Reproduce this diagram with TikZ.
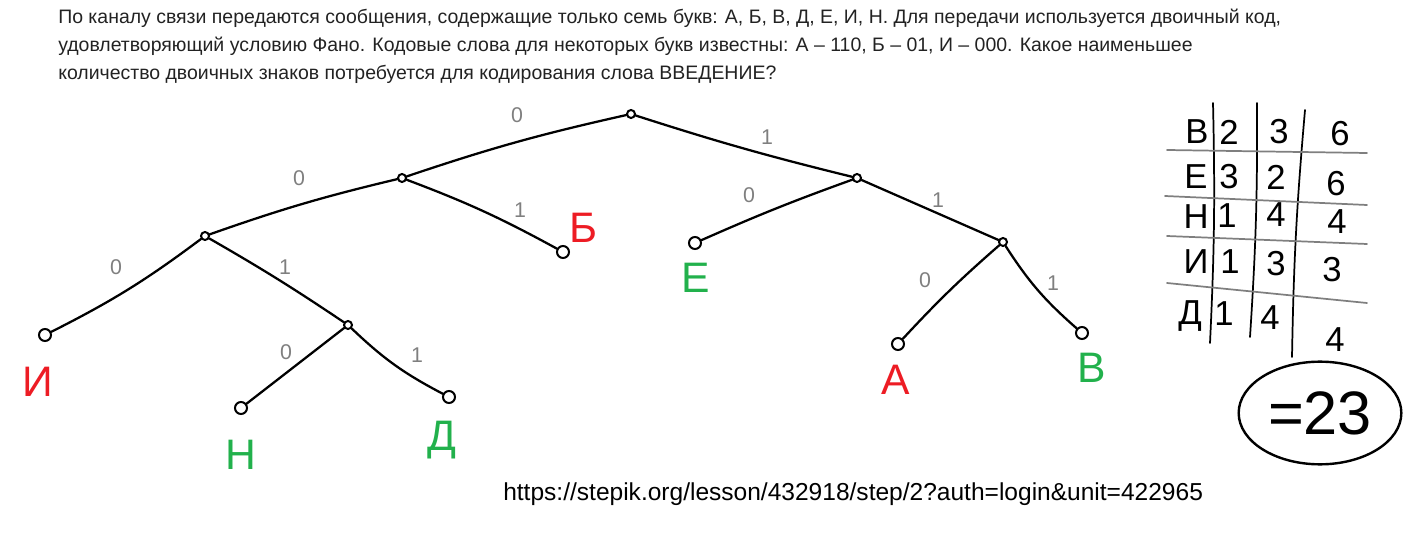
\documentclass[tikz,border=0pt]{standalone}
\usepackage{fontspec}
\setmainfont{Liberation Sans}
\usetikzlibrary{shapes.geometric}
\definecolor{pred}{HTML}{ED1C24}
\definecolor{pgreen}{HTML}{22B14C}
\definecolor{pgray}{HTML}{7F7F7F}
\definecolor{ink}{HTML}{222222}

\begin{document}
\begin{tikzpicture}[x=0.75pt,y=-0.75pt,
  knot/.style={circle,draw,line width=1.5pt,inner sep=0pt,minimum size=6pt},
  leaf/.style={knot,minimum size=9pt},
  edge/.style={line width=1.7pt,line cap=round},
  bit/.style={text=pgray,inner sep=0pt,font=\fontsize{16}{16}\selectfont},
  letter/.style={inner sep=0pt,font=\fontsize{32}{32}\selectfont},
  hit/.style={letter,text=pred},
  fit/.style={letter,text=pgreen},
  cell/.style={inner sep=0pt,font=\fontsize{26}{26}\selectfont},
  rule/.style={line width=1.3pt,line cap=round},
  task/.style={anchor=base west,inner sep=0pt,text=ink,font=\fontsize{14.6}{14.6}\selectfont}]
\useasboundingbox (0,0) rectangle (1405,534);

\node[task] (q1) at (58,24) {По каналу связи передаются сообщения, содержащие только семь букв: А, Б, В, Д, Е, И, Н. Для передачи используется двоичный код,};
\node[task] (q2) at (58,52) {удовлетворяющий условию Фано. Кодовые слова для некоторых букв известны: А – 110, Б – 01, И – 000. Какое наименьшее};
\node[task] (q3) at (58,80) {количество двоичных знаков потребуется для кодирования слова ВВЕДЕНИЕ?};

\node[knot] (root) at (631,114) {};
\node[knot] (z) at (402,178) {};
\node[knot] (o) at (857,178) {};
\node[knot] (zz) at (205,236) {};
\node[knot] (zzo) at (348,325) {};
\node[knot] (oo) at (1003,242) {};
\node[leaf] (I) at (45,335) {};
\node[leaf] (B) at (563,252) {};
\node[leaf] (N) at (241,408) {};
\node[leaf] (D) at (449,397) {};
\node[leaf] (E) at (695,243) {};
\node[leaf] (A) at (898,344) {};
\node[leaf] (V) at (1082,333) {};

\draw[edge] (root) to[bend right=3] (z);
\draw[edge] (root) to[bend right=2] (o);
\draw[edge] (z) to[bend right=3] (zz);
\draw[edge] (z) to[bend left=4] (B);
\draw[edge] (zz) to[bend left=5] (I);
\draw[edge] (zz) to[bend left=2] (zzo);
\draw[edge] (zzo) -- (N);
\draw[edge] (zzo) to[bend right=8] (D);
\draw[edge] (o) to[bend right=2] (E);
\draw[edge] (o) -- (oo);
\draw[edge] (oo) to[bend right=3] (A);
\draw[edge] (oo) to[bend right=8] (V);

\node[bit] (b0) at (517,115) {0};
\node[bit] (b1) at (767,137) {1};
\node[bit] (b00) at (299,178) {0};
\node[bit] (b01) at (520,210) {1};
\node[bit] (b000) at (116,267) {0};
\node[bit] (b001) at (285,267) {1};
\node[bit] (b0010) at (286,352) {0};
\node[bit] (b0011) at (417,355) {1};
\node[bit] (b10) at (749,195) {0};
\node[bit] (b11) at (938,200) {1};
\node[bit] (b110) at (925,280) {0};
\node[bit] (b111) at (1053,283) {1};

\node[hit] (lI) at (38,382) {И};
\node[hit] (lB) at (583,228) {Б};
\node[fit] (lN) at (241,455) {Н};
\node[fit] (lD) at (442,440) {Д};
\node[fit] (lE) at (696,278) {Е};
\node[hit] (lA) at (896,380) {А};
\node[fit] (lV) at (1092,368) {В};

\draw[rule] (1213,103) to[bend left=2] (1210,343);
\draw[rule] (1257,103) to[bend left=2] (1250,337);
\draw[rule] (1305,110) to[bend right=2] (1292,357);
\draw[rule,draw=pgray] (1167,150) -- (1367,153);
\draw[rule,draw=pgray] (1165,196) -- (1367,205);
\draw[rule,draw=pgray] (1167,236) -- (1367,244);
\draw[rule,draw=pgray] (1167,283) -- (1367,303);

\node[cell] (tV) at (1197,132) {В};
\node[cell] (tV1) at (1229,132) {2};
\node[cell] (tV2) at (1279,132) {3};
\node[cell] (tV3) at (1340,134) {6};
\node[cell] (tE) at (1196,177) {Е};
\node[cell] (tE1) at (1229,177) {3};
\node[cell] (tE2) at (1276,177) {2};
\node[cell] (tE3) at (1336,184) {6};
\node[cell] (tN) at (1196,217) {Н};
\node[cell] (tN1) at (1227,216) {1};
\node[cell] (tN2) at (1276,215) {4};
\node[cell] (tN3) at (1337,222) {4};
\node[cell] (tI) at (1196,262) {И};
\node[cell] (tI1) at (1230,262) {1};
\node[cell] (tI2) at (1276,264) {3};
\node[cell] (tI3) at (1332,270) {3};
\node[cell] (tD) at (1190,316) {Д};
\node[cell] (tD1) at (1224,314) {1};
\node[cell] (tD2) at (1270,318) {4};
\node[cell] (tD3) at (1335,340) {4};

\node[ellipse,draw,line width=1.8pt,minimum width=122pt,minimum height=77pt,
  font=\fontsize{46}{46}\selectfont] (sum) at (1320,413) {=23};

\node[anchor=base west,inner sep=0pt,font=\fontsize{18.4}{18.4}\selectfont] (url) at (503,500)
  {https://stepik.org/lesson/432918/step/2?auth=login\&unit=422965};
\end{tikzpicture}
\end{document}
